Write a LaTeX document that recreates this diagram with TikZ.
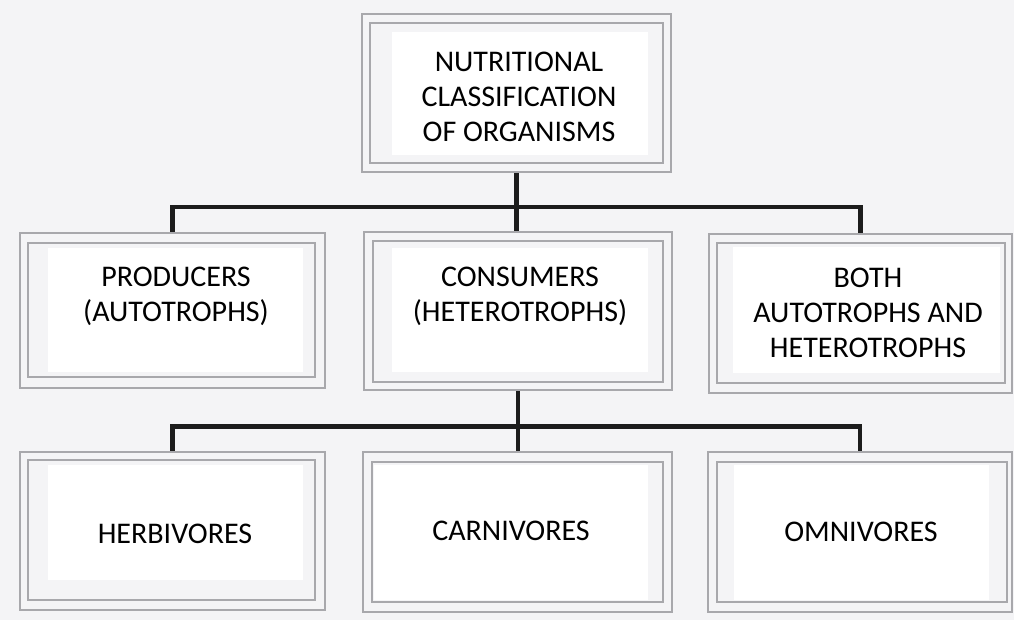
\documentclass[tikz,border=0pt]{standalone}
\usepackage{fontspec}
\setmainfont{Carlito}
\definecolor{bg}{RGB}{244,244,246}
\definecolor{framegray}{RGB}{168,168,172}
\definecolor{ink}{RGB}{28,28,28}
\begin{document}
\begin{tikzpicture}[x=1pt,y=-1pt,
  outerbox/.style={draw=framegray, line width=2.5pt, inner sep=0pt},
  innerframe/.style={draw=framegray, line width=2.5pt},
  whitearea/.style={fill=white, draw=none},
  boxtext/.style={align=center, inner sep=0pt, text=black, font=\fontsize{30}{35}\selectfont},
  conn/.style={draw=ink, line width=4.5pt, line join=miter}]
\fill[bg] (0,0) rectangle (1014,620);
\useasboundingbox (0,0) rectangle (1014,620);

% white areas
\fill[whitearea] (392,32) rectangle (648,155);
\fill[whitearea] (48,248) rectangle (303,372);
\fill[whitearea] (392,248) rectangle (648,372);
\fill[whitearea] (733,247) rectangle (1000,373);
\fill[whitearea] (48,465) rectangle (303,580);
\fill[whitearea] (374,465) rectangle (648,600);
\fill[whitearea] (734,465) rectangle (989,600);

% outer frames (named boxes)
\node[outerbox, minimum width=309pt, minimum height=158pt] (top)  at (516.5,93)   {};
\node[outerbox, minimum width=305pt, minimum height=155pt] (prod) at (172.5,310.5) {};
\node[outerbox, minimum width=308pt, minimum height=158pt] (cons) at (518,311)    {};
\node[outerbox, minimum width=303pt, minimum height=159pt] (both) at (860.5,313.5) {};
\node[outerbox, minimum width=305pt, minimum height=158pt] (herb) at (172.5,531)  {};
\node[outerbox, minimum width=309pt, minimum height=160pt] (carn) at (517.5,532)  {};
\node[outerbox, minimum width=304pt, minimum height=160pt] (omni) at (860,532)    {};

% inner frames
\draw[innerframe] (370,23) rectangle (663,163);
\draw[innerframe] (28,243) rectangle (315,377);
\draw[innerframe] (373,241) rectangle (663,382);
\draw[innerframe] (717,243) rectangle (1005,383);
\draw[innerframe] (28,460) rectangle (315,600);
\draw[innerframe] (372,462) rectangle (663,602);
\draw[innerframe] (717,462) rectangle (1007,602);

% texts
\node[boxtext] (topT)  at (519,97)  {NUTRITIONAL\\CLASSIFICATION\\OF ORGANISMS};
\node[boxtext] (prodT) at (176,296) {PRODUCERS\\(AUTOTROPHS)};
\node[boxtext] (consT) at (520,296) {CONSUMERS\\(HETEROTROPHS)};
\node[boxtext] (bothT) at (868,313) {BOTH\\AUTOTROPHS AND\\HETEROTROPHS};
\node[boxtext] (herbT) at (175,534) {HERBIVORES};
\node[boxtext] (carnT) at (511,531) {CARNIVORES};
\node[boxtext] (omniT) at (861,532) {OMNIVORES};

% connectors
\draw[conn] (top.south) -- ++(0,34) coordinate (j1);
\draw[conn] (prod.north) |- (j1) -| (both.north);
\draw[conn] (j1) -- (j1 |- cons.north);
\draw[conn] (cons.south) -- ++(0,35) coordinate (j2);
\draw[conn] (herb.north) |- (j2) -| (omni.north);
\draw[conn] (j2) -- (j2 |- carn.north);
\end{tikzpicture}
\end{document}
